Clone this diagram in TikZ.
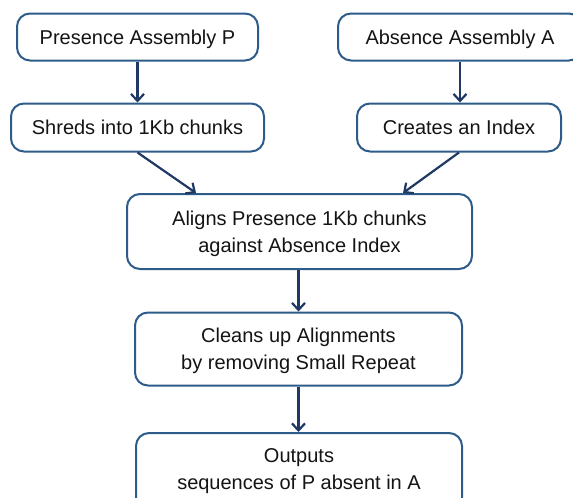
\documentclass[tikz,border=0pt]{standalone}
\usepackage{fontspec}
\setmainfont{Liberation Sans}
\usetikzlibrary{arrows.meta}
\definecolor{boxborder}{RGB}{46,92,138}
\definecolor{arrowcol}{RGB}{31,56,100}
\definecolor{txt}{RGB}{20,20,20}
\begin{document}
\begin{tikzpicture}[x=1pt,y=-1pt,
  stepbox/.style={draw=boxborder, line width=2pt, rounded corners=13pt, fill=white,
    align=center, text=txt, inner sep=0pt, text depth=0pt, font=\fontsize{20}{27}\selectfont},
  arr/.style={draw=arrowcol, line width=2.2pt, -{Straight Barb[length=7pt,width=13pt,line width=2.2pt]}}]
\useasboundingbox (0,0) rectangle (573,498);
\begin{scope}
\clip (0,0) rectangle (573,498);
\node[stepbox, minimum width=241pt, minimum height=47pt] (P) at (137.5,37) {Presence Assembly P};
\node[stepbox, minimum width=253pt, minimum height=48pt] (S) at (137.5,127.5) {Shreds into 1Kb chunks};
\node[stepbox, minimum width=244pt, minimum height=47pt] (A) at (460,37) {Absence Assembly A};
\node[stepbox, minimum width=204pt, minimum height=48pt] (I) at (459,127.5) {Creates an Index};
\node[stepbox, minimum width=345pt, minimum height=75pt] (Al) at (299.5,231.5) {Aligns Presence 1Kb chunks\\against Absence Index};
\node[stepbox, minimum width=327pt, minimum height=73pt] (C) at (298.5,349) {Cleans up Alignments\\by removing Small Repeat};
\node[stepbox, minimum width=326pt, minimum height=80pt, anchor=north] (O) at (299,432) {};
\node[text=txt, align=center, text depth=0pt, font=\fontsize{20}{27}\selectfont] (Ot) at (299,469) {Outputs\\sequences of P absent in A};
\end{scope}
\draw[arr] (P.south) -- (S.north);
\draw[arr] (A.south) -- (A.south |- I.north);
\draw[arr] (S.south) -- ([xshift=70pt]Al.north west);
\draw[arr] (I.south) -- ([xshift=-70pt]Al.north east);
\draw[arr] (Al.south -| C.north) -- (C.north);
\draw[arr] (C.south) -- (C.south |- O.north);
\end{tikzpicture}
\end{document}
